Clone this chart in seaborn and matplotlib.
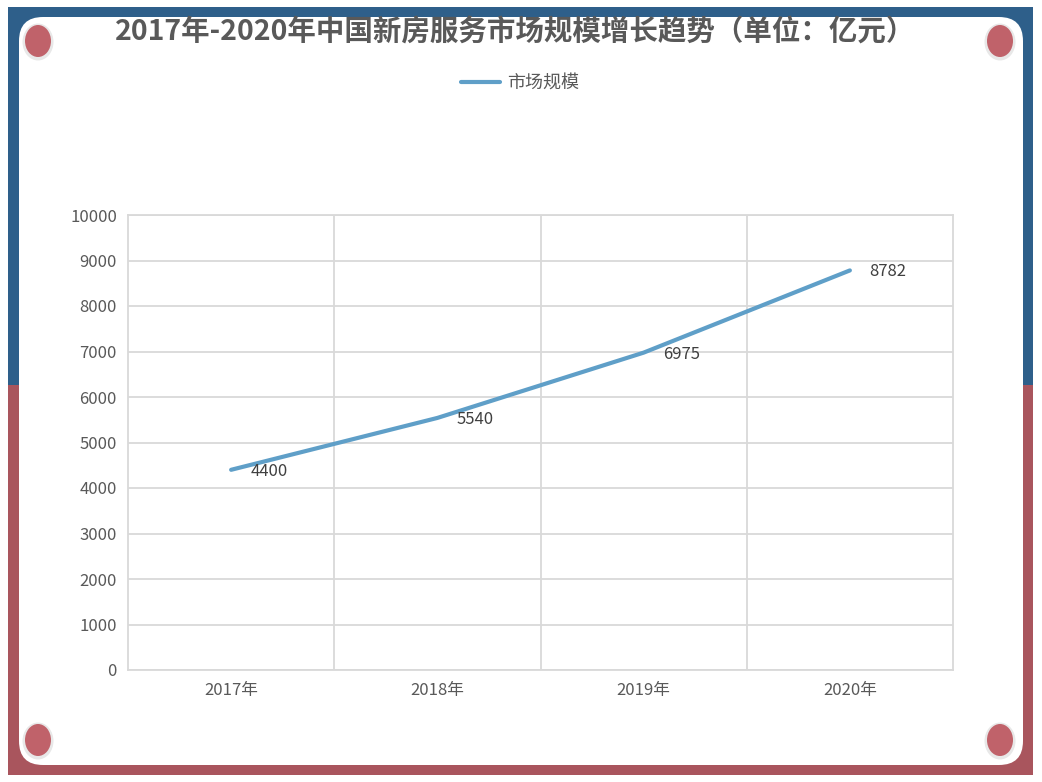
import matplotlib
matplotlib.use('Agg')
import matplotlib.pyplot as plt
from matplotlib.patches import FancyBboxPatch, Rectangle, Ellipse
import pandas as pd
import seaborn as sns

# dati
anni = ['2017年', '2018年', '2019年', '2020年']
valori = [4400, 5540, 6975, 8782]
serie = '市场规模'
titolo = '2017年-2020年中国新房服务市场规模增长趋势（单位：亿元）'

df = pd.DataFrame({'anno': anni, 'valore': valori})
df['pos'] = range(len(df))

sns.set_style('white')
plt.rcParams['font.family'] = ['Noto Sans CJK SC', 'DejaVu Sans']

W, H = 1042, 782
fig = plt.figure(figsize=(W / 100, H / 100), dpi=100)

# cornice esterna: blu sopra, rosso sotto (coordinate in pixel)
blu = '#2e5f8a'
rosso = '#a9555d'
fig.patches.append(Rectangle((8, H - 385), 1025, 378, transform=None,
                             facecolor=blu, edgecolor='none', zorder=0))
fig.patches.append(Rectangle((8, 7), 1025, H - 385 - 7, transform=None,
                             facecolor=rosso, edgecolor='none', zorder=0))
# pannello bianco arrotondato
fig.patches.append(FancyBboxPatch((19, H - 765), 1004, 748, transform=None,
                                  boxstyle='round,pad=0,rounding_size=24',
                                  facecolor='white', edgecolor='none', zorder=1))
# cerchi negli angoli (con un leggero alone)
for cx, cy in [(38, 41), (1000, 41), (38, 740), (1000, 740)]:
    fig.patches.append(Ellipse((cx, H - cy - 1), 31, 37, transform=None,
                               facecolor='#cccccc', alpha=0.45, edgecolor='none', zorder=2))
    fig.patches.append(Ellipse((cx, H - cy), 26, 32, transform=None,
                               facecolor='#c0626a', edgecolor='none', zorder=3))

ax = fig.add_axes([128 / W, 1 - 670 / H, (953 - 128) / W, (670 - 215) / H])
ax.set_zorder(5)
ax.patch.set_alpha(0)

sns.lineplot(data=df, x='pos', y='valore', ax=ax, color='#5f9fc8',
             linewidth=3, label=serie, solid_capstyle='round')

for p, v in zip(df['pos'], df['valore']):
    ax.annotate(str(v), (p, v), xytext=(14, -1), textcoords='offset points',
                ha='left', va='center', fontsize=12, color='#404040')

ax.set_xlim(-0.5, 3.5)
ax.set_ylim(0, 10000)
ax.set_yticks(range(0, 10001, 1000))
ax.set_xticks([0.5, 1.5, 2.5], minor=False)
ax.set_xticks([0, 1, 2, 3], minor=True)
ax.set_xticklabels([], minor=False)
ax.set_xticklabels(anni, minor=True)
ax.grid(True, which='major', color='#d9d9d9', linewidth=1.3)
ax.tick_params(axis='both', which='both', length=0, labelsize=12, labelcolor='#595959')
ax.tick_params(axis='x', which='minor', pad=9)
ax.tick_params(axis='y', pad=8)
for s in ax.spines.values():
    s.set_color('#d9d9d9')
    s.set_linewidth(1.3)
ax.set_xlabel('')
ax.set_ylabel('')

leg = ax.legend(loc='center', bbox_to_anchor=(520 / W, 1 - 83 / H),
                bbox_transform=fig.transFigure, frameon=False, fontsize=13,
                handlelength=2.2, handletextpad=0.4)
for t in leg.get_texts():
    t.set_color('#595959')

fig.text(515 / W, 1 - 33 / H, titolo, ha='center', va='center',
         fontsize=20.5, fontweight='bold', color='#595959')

fig.savefig('out.png', dpi=100)
